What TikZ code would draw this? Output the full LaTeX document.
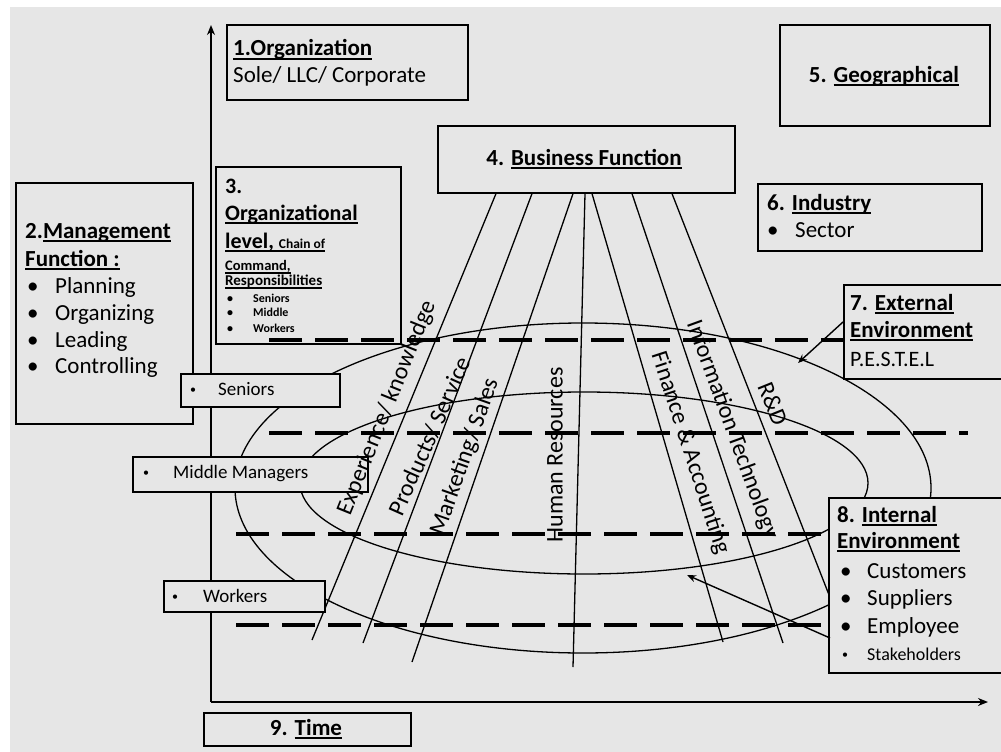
\documentclass[tikz,border=0pt]{standalone}
\usepackage{fontspec}
\setmainfont{Carlito}
\newcommand{\myul}[1]{\leavevmode\setbox0\hbox{#1}\rlap{\vrule width\wd0 height -2pt depth 3.6pt}\box0}
\usetikzlibrary{arrows.meta,calc}
\definecolor{bg}{RGB}{230,230,230}
\begin{document}
\begin{tikzpicture}[x=1pt,y=-1pt,
  box/.style={draw=black,line width=1.6pt,fill=bg,inner sep=0pt,anchor=north west},
  txt/.style={anchor=base west,inner sep=0pt},
  t23/.style={txt,font=\fontsize{23}{27}\selectfont},
  b23/.style={txt,font=\bfseries\fontsize{23}{27}\selectfont},
  lvl/.style={txt,font=\fontsize{19}{22}\selectfont},
  sm/.style={txt,font=\bfseries\fontsize{12}{14}\selectfont},
  rlab/.style={inner sep=0pt,font=\fontsize{24}{28}\selectfont},
  fan/.style={line width=1.3pt},
  dsh/.style={line width=3.5pt,dash pattern=on 33pt off 13pt},
  ell/.style={line width=1.3pt},
  arr/.style={line width=1.4pt,-{Stealth[length=9pt,width=7pt]}},
  axis/.style={line width=1.8pt,-{Stealth[length=10pt,width=8pt]}}
]
\useasboundingbox (0,0) rectangle (1001,752);
\fill[bg] (10,7) rectangle (1001,752);

% ellipses
\draw[ell] (583,488) ellipse [x radius=348pt, y radius=165pt];
\draw[ell] (584,483) ellipse [x radius=284pt, y radius=91pt];

% axes
\coordinate (O) at (211,702);
\coordinate (ytop) at (211,25);
\coordinate (xend) at (988,702);
\draw[axis] (O) -- (ytop);
\draw[axis] (O) -- (xend);

% business function box and fan lines
\node[box,minimum width=297pt,minimum height=67pt] (b4) at (437,125) {};
\coordinate (e1) at (312,640);
\coordinate (e2) at (363,643);
\coordinate (e3) at (412,662);
\coordinate (e4) at (573,667);
\coordinate (e5) at (723,642);
\coordinate (e6) at (783,643);
\coordinate (e7) at (840,623);
\draw[fan] ($(b4.south west)+(59,0)$) -- (e1);
\draw[fan] ($(b4.south west)+(95,0)$) -- (e2);
\draw[fan] ($(b4.south west)+(136,0)$) -- (e3);
\draw[fan] ($(b4.south west)+(148,0)$) -- (e4);
\draw[fan] ($(b4.south west)+(155,0)$) -- (e5);
\draw[fan] ($(b4.south west)+(195,0)$) -- (e6);
\draw[fan] ($(b4.south west)+(235,0)$) -- (e7);
\node[b23,anchor=base] (t4) at (584,165) {4. \myul{Business Function}};

% box 1
\node[box,minimum width=241pt,minimum height=75pt] (b1) at (226,24) {};
\node[b23] (t1a) at (233,56) {\myul{1.Organization}};
\node[t23] (t1b) at (233,82) {Sole/ LLC/ Corporate};

% box 5
\node[box,minimum width=210pt,minimum height=101pt] (b5) at (779,24) {};
\node[b23,anchor=base] (t5) at (884,82) {5. \myul{Geographical}};

% box 2
\node[box,minimum width=177pt,minimum height=241pt] (b2) at (15,182) {};
\node[b23] (t2a) at (25,238) {2.\myul{Management}};
\node[b23] (t2b) at (25,266) {\myul{Function :}};
\foreach \y/\w [count=\i] in {293/Planning,320/Organizing,347/Leading,373/Controlling}{
  \node[t23] (bu2\i) at (27,\y) {•};
  \node[t23] (it2\i) at (55,\y) {\w};
}

% box 3
\node[box,minimum width=185pt,minimum height=177pt] (b3) at (215,166) {};
\node[txt,font=\bfseries\fontsize{22}{26}\selectfont] (t3a) at (225,193) {3.};
\node[txt,font=\bfseries\fontsize{22}{26}\selectfont] (t3b) at (225,220) {\myul{Organizational}};
\node[txt,font=\bfseries\fontsize{22}{26}\selectfont] (t3c) at (225,248) {\myul{level, {\fontsize{13.5}{15}\selectfont Chain of}}};
\node[txt,font=\bfseries\fontsize{14.5}{16}\selectfont] (t3d) at (225,270) {\myul{Command,}};
\node[txt,font=\bfseries\fontsize{15}{16}\selectfont] (t3e) at (225,285) {\myul{Responsibilities}};
\foreach \y/\w [count=\i] in {302/Seniors,316/Middle,332/Workers}{
  \node[sm] (bu3\i) at (227,\y) {•};
  \node[sm] (it3\i) at (253,\y) {\w};
}

% box 6
\node[box,minimum width=224pt,minimum height=67pt] (b6) at (757,183) {};
\node[b23] (t6a) at (767,210) {6. \myul{Industry}};
\node[t23] (bu6) at (767,237) {•};
\node[t23] (t6b) at (795,237) {Sector};

% box 7
\node[box,minimum width=162pt,minimum height=94pt] (b7) at (843,284) {};
\node[b23] (t7a) at (850,310) {7. \myul{External}};
\node[b23] (t7b) at (850,337) {\myul{Environment}};
\node[txt,font=\fontsize{22}{26}\selectfont] (t7c) at (850,366) {P.E.S.T.E.L};

% box 8
\node[box,minimum width=177pt,minimum height=175pt] (b8) at (828,497) {};
\node[b23] (t8a) at (837,522) {8. \myul{Internal}};
\node[b23] (t8b) at (837,548) {\myul{Environment}};
\foreach \y/\w [count=\i] in {578/Customers,605/Suppliers,633/Employee}{
  \node[t23] (bu8\i) at (840,\y) {•};
  \node[t23] (it8\i) at (867,\y) {\w};
}
\node[txt,font=\fontsize{12}{14}\selectfont] (bu84) at (842,658) {•};
\node[txt,font=\fontsize{18}{20}\selectfont] (it84) at (867,660) {Stakeholders};

% box 9
\node[box,minimum width=207pt,minimum height=33pt] (b9) at (203,712) {};
\node[b23,anchor=base] (t9) at (306,735) {9. \myul{Time}};

% level boxes
\node[box,minimum width=159pt,minimum height=33pt] (sen) at (180,373) {};
\node[txt,font=\fontsize{12}{14}\selectfont] (busen) at (190,393) {•};
\node[lvl] (tsen) at (218,395) {Seniors};
\node[box,minimum width=235pt,minimum height=35pt] (mid) at (132,456) {};
\node[txt,font=\fontsize{12}{14}\selectfont] (bumid) at (143,476) {•};
\node[lvl] (tmid) at (173,478) {Middle Managers};
\node[box,minimum width=161pt,minimum height=31pt] (wrk) at (163,580) {};
\node[txt,font=\fontsize{12}{14}\selectfont] (buwrk) at (172,600) {•};
\node[lvl] (twrk) at (203,602) {Workers};

% rotated labels (drawn over the boxes)
\node[rlab,rotate=68] (l1) at (387,408) {Experience/ knowledge};
\node[rlab,rotate=66] (l2) at (430,436) {Products/ Service};
\node[rlab,rotate=70.5] (l3) at (465,457) {Marketing/ Sales};
\node[rlab,rotate=90] (l4) at (555,455) {Human Resources};
\node[rlab,rotate=-72] (l5) at (690,453) {Finance \& Accounting};
\node[rlab,rotate=-70] (l6) at (732,430) {Information Technology};
\node[rlab,rotate=-68] (l7) at (773,404) {R\&D};

% dashed level lines
\draw[dsh] (269,340) -- (b7.west |- 0,340);
\draw[dsh] (269,433) -- (968,433);
\draw[dsh] (236,534) -- (b8.west |- 0,534);
\draw[dsh] (236,625) -- (b8.west |- 0,625);

% arrows
\coordinate (p7) at (798,363);
\coordinate (p8) at (687,575);
\draw[arr] ($(b7.north west)+(0,38)$) -- (p7);
\draw[arr] ($(b8.north west)+(2,141)$) -- (p8);
\end{tikzpicture}
\end{document}
